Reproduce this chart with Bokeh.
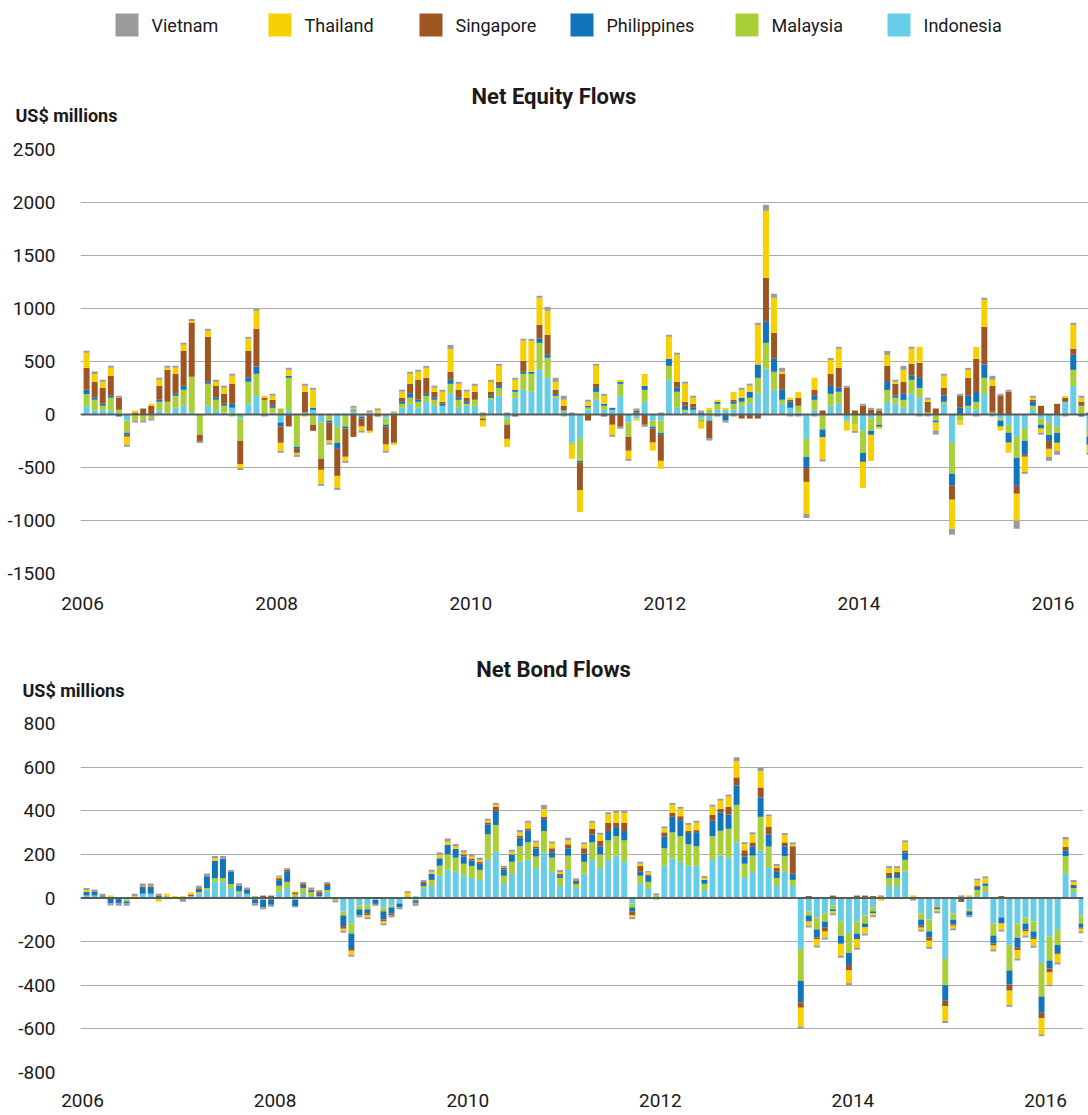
from bokeh.plotting import figure
from bokeh.models import ColumnDataSource, Range1d, FixedTicker, Span
from bokeh.core.properties import value
from bokeh.layouts import column
from bokeh.embed import file_html
from bokeh.resources import INLINE

FONT = "Roboto"
TEXT_COLOR = "#1a1a1a"

# ---------------- data (US$ millions, monthly, Jan 2006 onwards) ----------------
countries = ["Indonesia", "Malaysia", "Philippines", "Singapore", "Thailand", "Vietnam"]
country_colors = ["#67cde6", "#a9cf38", "#1274bc", "#9d5623", "#f6d000", "#9b9b9b"]
legend_order = ["Vietnam", "Thailand", "Singapore", "Philippines", "Malaysia", "Indonesia"]
year_ticks = [2006, 2008, 2010, 2012, 2014, 2016]
equity_y_ticks = [-1500, -1000, -500, 0, 500, 1000, 1500, 2000, 2500]
bond_y_ticks = [-800, -600, -400, -200, 0, 200, 400, 600, 800]

# Net equity flows
eq_indonesia = [79, 41, 41, 41, 0, -57, 0, 0, 0, 41,
                19, 63, 82, 19, 0, 82, 41, 19, 63, -38,
                101, 176, 0, 19, -75, 41, 0, 19, 44, -75,
                0, -116, 0, 38, 0, 19, 0, -38, 0, 63,
                101, 63, 119, 82, 82, 195, 63, 82, 82, 0,
                138, 176, -38, 157, 233, 214, 421, 346, 157, 38,
                -267, -230, 47, 138, 44, 44, 176, -75, -38, 119,
                -57, -57, 327, 63, 25, 44, -38, -57, 44, 44,
                44, 82, 101, 195, 431, 233, 101, 63, 19, -230,
                44, -6, 82, 101, -57, 0, -154, -38, 0, 119,
                101, 63, 195, 157, -19, 0, 101, -267, 0, 63,
                44, 195, -19, -38, -97, -211, -135, 44, -38, -79,
                -116, 119, 270, 0, -135]
eq_malaysia = [113, 97, 41, 116, 44, -116, -57, -57, -38, 79,
               101, 113, 151, 336, -192, 208, 97, 63, -19, -211,
               208, 208, 138, 44, 57, 305, -305, -19, -97, -343,
               -57, -151, -113, 0, -19, 0, 19, -57, 19, 38,
               57, 57, 57, 57, 0, 94, 75, 19, 57, -38,
               19, 75, -57, 57, 151, 170, 255, 189, 19, -19,
               -19, -208, 19, 75, 38, 0, 113, -135, 0, 113,
               -57, -116, 132, 151, 19, 0, -38, 44, 57, 0,
               57, 38, 57, 151, 245, 170, 38, 0, 63, -170,
               94, -135, 113, 113, -19, -97, -208, -116, -97, 113,
               57, 75, 132, 94, 19, -57, 19, -292, -57, 19,
               75, 151, 19, -19, -75, -198, -113, 38, -57, -113,
               -57, 0, 151, 82, -75]
eq_philippines = [41, 19, 19, 19, -19, -19, 0, 0, 0, 19,
                  0, 19, 38, 0, 0, 19, 19, 19, 38, 0,
                  38, 69, 0, 19, -38, 19, -19, 0, 19, 0,
                  -19, -57, -19, 10, -19, 0, 0, -19, 0, 19,
                  38, 19, 19, 19, 19, 38, 19, 19, 0, 0,
                  19, 19, 0, 19, 19, 19, 38, 28, 19, 0,
                  0, -13, 16, 38, 19, 19, 19, 0, 19, 38,
                  -19, -19, 66, 38, 38, 19, 19, 0, 19, -57,
                  19, 38, 57, 126, 198, 123, 94, 57, 0, -104,
                  38, -75, 75, 38, 0, 0, -85, -38, -19, 75,
                  19, 57, 38, 94, 0, -19, 57, -113, 63, 94,
                  94, 126, 6, -57, -94, -264, -132, 38, -38, -57,
                  -94, 0, 142, -19, -75]
eq_singapore = [208, 151, 151, 189, 113, -19, 19, 57, 82, 132,
                302, 189, 330, 509, -57, 425, 113, 94, 189, -217,
                255, 355, 19, 57, -154, -113, -38, 195, -57, -104,
                -170, -255, -267, -211, -75, -154, -19, -170, -267, 38,
                94, 189, 151, 57, 19, 75, 75, 38, 75, -19,
                38, 38, -135, -19, 104, 0, 132, 189, 38, 44,
                0, -261, -57, 38, -19, -97, -116, -132, 19, -97,
                -132, -245, 0, 57, 38, 38, 0, -170, 0, 0,
                19, -38, -38, -38, 415, 245, 151, 19, 75, -132,
                57, 38, 113, 189, 252, 38, 82, 44, 38, 151,
                113, 113, 113, 142, 101, 57, 75, -132, 113, 170,
                311, 355, 245, 176, 214, -75, -19, 19, 82, -75,
                101, 38, 57, 38, 19]
eq_thailand = [142, 75, 57, 75, 0, -75, 19, 0, 19, 57,
               19, 57, 57, 19, 0, 57, 38, 57, 75, -38,
               113, 170, 19, 38, -75, 57, -19, 57, 170, -132,
               -19, -113, -38, 15, -38, -19, 19, -57, -19, 57,
               94, 75, 94, 38, 94, 217, 57, 57, 57, -57,
               94, 151, -75, 94, 189, 292, 255, 226, 75, 57,
               -132, -208, 38, 170, 75, -94, 19, -75, -19, 113,
               -75, -75, 208, 255, 170, 57, -57, 19, 19, 19,
               75, 75, 57, 374, 632, 330, 19, 19, 57, -302,
               113, -208, 132, 179, -75, -57, -245, -245, -19, 104,
               19, 113, 142, 151, 19, -75, 113, -274, -41, 75,
               113, 255, 57, -38, -94, -255, -142, 19, -38, -75,
               -75, 19, 226, 38, -75]
eq_vietnam = [19, 22, 19, 19, 19, -19, -19, -19, -19, 19,
              19, 19, 19, 19, -19, 19, 19, 19, 19, -19,
              19, 19, -19, 19, -19, 19, -19, 19, 19, -19,
              -19, -19, -19, 19, -19, 19, 19, -19, 10, 19,
              19, 19, 19, 19, 19, 38, 19, 19, 19, 19,
              19, 19, 19, 19, 19, 19, 19, 38, 38, 38,
              19, 0, 19, 19, 19, -19, -19, -19, 19, -19,
              0, 19, 19, 19, 19, 19, 19, -19, -19, -19,
              -19, 19, 19, 19, 57, 38, 38, -19, -19, -38,
              -19, -19, 19, 19, 19, -19, 19, 19, 19, 38,
              19, 38, 19, -19, 19, -38, 19, -57, 19, 19,
              -19, 19, 38, 19, 19, -75, -19, 19, -19, -38,
              -38, -19, 19, 19, -19]

# Net bond flows
bd_indonesia = [11, 11, 0, 0, 0, -8, 0, 20, 20, 0,
                0, 0, 0, 8, 20, 38, 74, 74, 46, 22,
                20, -6, -9, -6, 28, 46, -9, 18, 9, 9,
                28, 0, -62, -117, -34, -34, -9, -43, -34, -25,
                0, -11, 46, 55, 102, 129, 120, 102, 92, 83,
                175, 212, 68, 111, 166, 175, 138, 209, 120, 55,
                129, 46, 111, 175, 138, 175, 194, 166, -25, 65,
                46, 0, 148, 181, 166, 148, 148, 37, 175, 194,
                185, 255, 92, 120, 218, 138, 55, 120, 55, -234,
                -62, -89, -71, -34, -108, -160, -108, -80, -43, 0,
                55, 55, 120, 0, -71, -98, -37, -280, -71, 0,
                -52, 9, 28, -117, -89, -215, -117, -89, -108, -298,
                -178, -145, 111, 28, -80]
bd_malaysia = [0, 0, 0, 0, 0, -8, 0, 0, 0, 0,
               11, 0, 0, 0, 8, 8, 17, 18, 18, 9,
               0, 9, 0, 0, 28, 28, 18, 28, 18, 0,
               9, -11, -18, -46, -18, -18, 0, -18, -9, 0,
               9, 8, 9, 28, 46, 71, 65, 55, 55, 46,
               117, 123, 34, 55, 71, 80, 52, 98, 65, 37,
               65, 18, 55, 80, 62, 89, 89, 98, -18, 37,
               28, 12, 80, 120, 117, 98, 89, 28, 108, 114,
               132, 172, 65, 74, 154, 98, 37, 71, 28, -146,
               -18, -55, -37, -18, -65, -92, -55, -37, -18, 0,
               37, 37, 55, 0, -28, -55, -6, -120, -28, 0,
               -9, 28, 28, -55, 0, -117, -65, -28, -46, -154,
               -108, -71, 80, 18, -37]
bd_philippines = [17, 17, 8, -25, -25, -9, 0, 26, 26, 9,
                  0, 0, -8, 0, 9, 54, 80, 88, 55, 25,
                  17, -18, -34, -25, 26, 46, -28, 9, 6, 9,
                  18, 0, -49, -71, -28, -18, -18, -37, -28, -18,
                  0, -9, 9, 28, 34, 43, 40, 34, 25, 28,
                  46, 65, 28, 34, 40, 55, 37, 55, 25, 12,
                  34, 9, 37, 37, 37, 43, 43, 43, -18, 18,
                  28, 0, 55, 71, 74, 52, 65, 18, 71, 83,
                  65, 89, 34, 43, 89, 55, 28, 46, 28, -98,
                  -28, -37, -28, -9, -37, -55, -25, -18, -9, 0,
                  9, 18, 34, 0, -28, -28, -9, -71, -22, -9,
                  -18, 14, 11, -37, -28, -65, -46, -28, -28, -74,
                  -37, -37, 28, 9, -18]
bd_singapore = [0, 0, 0, 0, 0, 0, 0, 6, 6, 0,
                0, 0, 0, 8, 8, 0, 0, 0, 0, 0,
                0, 0, 11, 11, 9, 9, 8, 9, 6, 9,
                9, 0, -12, -8, 0, -9, 0, -9, -9, 0,
                0, -5, 9, 0, 0, 0, 0, 9, 9, 9,
                8, 18, 9, 0, 9, 9, 9, 11, 18, 6,
                18, 8, 25, 25, 25, 37, 18, 37, -18, 28,
                6, -6, 18, 18, 18, 9, 9, 0, 28, 18,
                37, 37, 28, 18, 46, 35, 18, 18, 126, -25,
                9, -9, -18, 11, 0, -25, 11, 11, 9, 0,
                15, 9, 9, 0, -9, -15, 0, -25, -6, -9,
                0, 6, 0, -9, 9, -28, -12, -9, -6, -25,
                -18, -6, 15, 6, -6]
bd_thailand = [9, 0, 0, 11, 0, 0, 9, 0, 0, -17,
               9, 9, 9, 9, 0, 0, 11, 0, 0, 0,
               0, 0, 0, 0, 6, 0, 4, 0, 0, 0,
               0, 0, -9, -18, 0, -9, 0, -9, 0, 0,
               14, 0, 0, 9, 15, 15, 11, 8, 8, 8,
               9, 9, 0, 12, 15, 26, 18, 34, 22, 9,
               18, 0, 18, 28, 28, 40, 46, 46, -9, 9,
               9, 0, 18, 37, 34, 28, 34, 9, 37, 37,
               46, 74, 28, 37, 74, 48, 9, 34, 9, -86,
               -18, -28, -28, -9, -55, -58, -40, -28, -9, -12,
               22, 18, 37, 12, -9, -28, -9, -68, -12, 0,
               12, 23, 23, -18, -28, -65, -37, -18, -31, -74,
               -55, -37, 34, 12, -12]
bd_vietnam = [9, 11, 12, -9, -11, -11, 11, 14, 14, 11,
              -6, -5, -9, -6, 11, 12, 11, 12, 9, 12,
              11, -11, -9, -9, 6, 8, -6, 9, 9, 9,
              9, -9, -9, -9, -9, -9, -9, -9, -9, -9,
              8, -11, 9, 9, 12, 15, 11, 11, 11, 11,
              9, 9, 9, 9, 11, 9, 9, 20, 9, 9,
              12, 9, 9, 9, 9, 9, 9, 9, -9, 9,
              6, 9, 9, 9, 9, 9, 9, 9, 9, 9,
              9, 18, 9, 9, 18, 9, 9, 9, 9, -9,
              -9, -9, -9, -9, -9, -9, -9, -9, -9, 12,
              9, 9, 9, -12, -9, -9, -9, -9, -9, 12,
              -9, 9, 9, -9, -9, -9, -9, -9, -9, -9,
              -9, -9, 12, 9, -9]

equity_series = [eq_indonesia, eq_malaysia, eq_philippines, eq_singapore, eq_thailand, eq_vietnam]
bond_series = [bd_indonesia, bd_malaysia, bd_philippines, bd_singapore, bd_thailand, bd_vietnam]


# ---------------- helpers ----------------
def month_centres(n):
    return [2006 + (i + 0.5) / 12.0 for i in range(n)]


def stacked_extents(series_list):
    """Excel-style stacking: positives upward, negatives downward, in series order."""
    n = len(series_list[0])
    pos = [0.0] * n
    neg = [0.0] * n
    result = []
    for vals in series_list:
        bottoms, tops = [], []
        for i, v in enumerate(vals):
            if v >= 0:
                bottoms.append(pos[i]); tops.append(pos[i] + v); pos[i] += v
            else:
                tops.append(neg[i]); bottoms.append(neg[i] + v); neg[i] += v
        result.append((bottoms, tops))
    return result


def header_strip(height):
    """A pixel-mapped strip (1 data unit = 1 px) for legend and titles."""
    h = figure(width=1088, height=height, x_range=Range1d(0, 1088), y_range=Range1d(0, height),
               x_axis_location=None, y_axis_location=None, toolbar_location=None,
               output_backend="svg", min_border=0, frame_align=False)
    h.outline_line_color = None
    h.grid.visible = False
    return h


def add_titles(h, title_text, title_x, title_y, units_x, units_y):
    h.text(x=[title_x], y=[title_y], text=[title_text], text_align="center",
           text_baseline="middle", text_font=value(FONT), text_font_size="22px",
           text_font_style="bold", text_color=TEXT_COLOR)
    h.text(x=[units_x], y=[units_y], text=["US$ millions"], text_align="left",
           text_baseline="middle", text_font=value(FONT), text_font_size="18px",
           text_font_style="bold", text_color=TEXT_COLOR)


def make_chart(series_list, y_ticks, height, right_pad, x_end,
               top_border, bottom_border, x_label_standoff):
    y_start, y_end = y_ticks[0], y_ticks[-1]
    p = figure(width=1088, height=height,
               x_range=Range1d(2005.979, x_end), y_range=Range1d(y_start, y_end),
               toolbar_location=None, output_backend="svg", frame_align=False,
               min_border_left=80, min_border_right=right_pad,
               min_border_top=top_border, min_border_bottom=bottom_border)
    p.outline_line_color = None
    p.background_fill_color = "white"
    p.border_fill_color = "white"

    xs = month_centres(len(series_list[0]))
    for (bottoms, tops), color in zip(stacked_extents(series_list), country_colors):
        src = ColumnDataSource(dict(x=xs, bottom=bottoms, top=tops))
        p.vbar(x="x", bottom="bottom", top="top", width=0.74 / 12.0, source=src,
               fill_color=color, line_color=None)

    p.add_layout(Span(location=0, dimension="width", line_color="#5a5a5a", line_width=2))

    p.xgrid.visible = False
    p.ygrid.grid_line_color = "#ababab"
    p.ygrid.grid_line_width = 1
    p.ygrid.ticker = FixedTicker(ticks=y_ticks)
    p.yaxis.ticker = FixedTicker(ticks=y_ticks)
    p.yaxis.major_label_overrides = {t: str(t) for t in y_ticks}
    p.xaxis.ticker = FixedTicker(ticks=year_ticks)
    p.xaxis.major_label_overrides = {t: str(t) for t in year_ticks}

    for ax in (p.xaxis[0], p.yaxis[0]):
        ax.axis_line_color = None
        ax.major_tick_line_color = None
        ax.minor_tick_line_color = None
        ax.major_tick_out = 0
        ax.major_tick_in = 0
        ax.minor_tick_out = 0
        ax.major_label_text_font = FONT
        ax.major_label_text_font_size = "19px"
        ax.major_label_text_color = TEXT_COLOR
    p.yaxis.major_label_standoff = 25
    p.xaxis.major_label_standoff = x_label_standoff
    return p


# ---------------- top strip: legend + equity titles ----------------
top = header_strip(137)
swatch_left = [115, 268, 419, 570, 735, 887]
swatch_size = 23
legend_colors = [country_colors[countries.index(n)] for n in legend_order]
top.rect(x=[s + swatch_size / 2 for s in swatch_left], y=112.5, width=swatch_size,
         height=swatch_size, fill_color=legend_colors, line_color=None)
top.text(x=[s + 36 for s in swatch_left], y=112.5, text=legend_order,
         text_baseline="middle", text_align="left", text_font=value(FONT),
         text_font_size="18px", text_color=TEXT_COLOR)
add_titles(top, "Net Equity Flows", 553.5, 41, 15, 22)

equity = make_chart(equity_series, equity_y_ticks, 487, 0, 2016.365, 12, 51, 23)

# ---------------- bond strip: titles ----------------
mid = header_strip(87)
add_titles(mid, "Net Bond Flows", 553, 42, 22, 21)

bond = make_chart(bond_series, bond_y_ticks, 404, 5, 2016.394, 12, 43, 21)

layout = column(top, equity, mid, bond, spacing=0)
open("out.html", "w").write(file_html(layout, INLINE, title="ASEAN net portfolio flows"))
